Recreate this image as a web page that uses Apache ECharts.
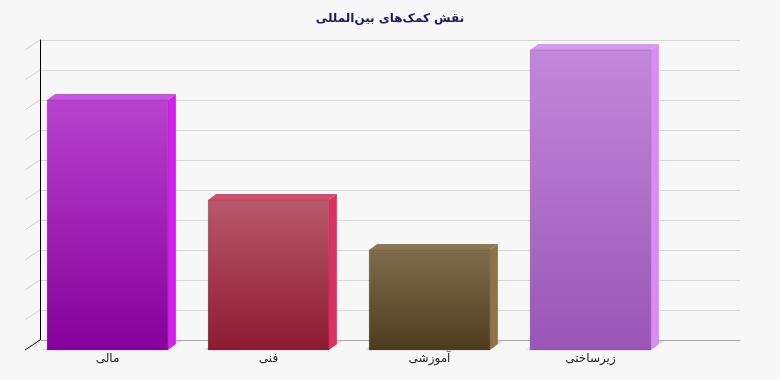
<!DOCTYPE html>
<html><head><meta charset="utf-8">
<script src="https://cdn.jsdelivr.net/npm/echarts@6/dist/echarts.min.js"></script>
<style>html,body{margin:0;padding:0;background:#f7f7f7}#c{width:780px;height:380px}</style>
</head><body><div id="c"></div>
<script>
var titleText = 'نقش کمک‌های بین‌المللی';
var categories = ['مالی', 'فنی', 'آموزشی', 'زیرساختی'];
var values = [8.33, 5, 3.33, 10];
var yTicks = [0, 1, 2, 3, 4, 5, 6, 7, 8, 9, 10];

var styles = [
  {top: '#b842ce', bottom: '#85009a', side: '#d420ec', cap: '#c855e0'},
  {top: '#b9586c', bottom: '#8c1a32', side: '#dc3060', cap: '#d24c6c'},
  {top: '#7f6c4d', bottom: '#4c3c1d', side: '#8e7444', cap: '#8c7852'},
  {top: '#c288da', bottom: '#9a55b6', side: '#d98cf2', cap: '#d898ef'}
];
var DX = 8, DY = -6;

var chart = echarts.init(document.getElementById('c'));
chart.setOption({
  backgroundColor: '#f7f7f7',
  animation: false,
  title: {
    text: titleText, left: 'center', top: 8,
    textStyle: {fontFamily: 'DejaVu Sans', fontSize: 12, fontWeight: 'bold', color: '#1c1c5c'}
  },
  grid: [
    {left: 40, right: 40, top: 40, height: 300},
    {left: 27, width: 644, top: 50, height: 300}
  ],
  xAxis: [
    {gridIndex: 0, type: 'value', min: 0, max: 1, axisLabel: {show: false}, axisTick: {show: false},
     splitLine: {show: false}, axisLine: {show: true, lineStyle: {color: '#a8a8a8', width: 1}}},
    {gridIndex: 1, type: 'category', data: categories, axisLine: {show: false}, axisTick: {show: false},
     axisLabel: {margin: 3, fontFamily: 'DejaVu Sans', fontSize: 12, color: '#222'}}
  ],
  yAxis: [
    {gridIndex: 0, type: 'value', min: 0, max: 10, interval: 1, axisLabel: {show: false},
     axisTick: {show: false}, axisLine: {show: true, lineStyle: {color: '#000', width: 1}},
     splitLine: {show: true, lineStyle: {color: '#d6d6d6', width: 1}}},
    {gridIndex: 1, type: 'value', min: 0, max: 10, interval: 1, show: false}
  ],
  series: [
    {
      type: 'custom', xAxisIndex: 0, yAxisIndex: 0, silent: true,
      data: yTicks.map(function (v) { return [0, v]; }),
      renderItem: function (params, api) {
        var p = api.coord([0, api.value(1)]);
        var isBase = api.value(1) === 0;
        return {
          type: 'line',
          shape: {x1: p[0], y1: p[1], x2: p[0] - 15, y2: p[1] + 10},
          style: {stroke: isBase ? '#000' : '#cfcfcf', lineWidth: 1}
        };
      },
      z: 1
    },
    {
      type: 'custom', xAxisIndex: 1, yAxisIndex: 1, silent: true,
      data: values.map(function (v, i) { return [i, v]; }),
      renderItem: function (params, api) {
        var i = api.value(0);
        var top = api.coord([i, api.value(1)]);
        var base = api.coord([i, 0]);
        var w = api.size([1, 0])[0] * 0.75;
        var x0 = top[0] - w / 2, x1 = top[0] + w / 2;
        var y0 = top[1], y1 = base[1];
        var s = styles[i];
        return {
          type: 'group',
          children: [
            {type: 'polygon', shape: {points: [[x0 - 4, y1], [x1, y1], [x1 + DX + 6, y1 - 9], [x0 + DX, y1 - 9]]},
             style: {fill: 'rgba(0,0,0,0.1)'}},
            {type: 'polygon', shape: {points: [[x1, y0], [x1 + DX, y0 + DY], [x1 + DX, y1 + DY], [x1, y1]]},
             style: {fill: s.side}},
            {type: 'polygon', shape: {points: [[x0, y0], [x0 + DX, y0 + DY], [x1 + DX, y0 + DY], [x1, y0]]},
             style: {fill: s.cap}},
            {type: 'rect', shape: {x: x0, y: y0, width: w, height: y1 - y0},
             style: {fill: new echarts.graphic.LinearGradient(0, 0, 0, 1, [
               {offset: 0, color: s.top}, {offset: 1, color: s.bottom}]),
               stroke: 'rgba(0,0,0,0.12)', lineWidth: 1}}
          ]
        };
      },
      z: 3
    }
  ]
});
</script>
</body></html>
